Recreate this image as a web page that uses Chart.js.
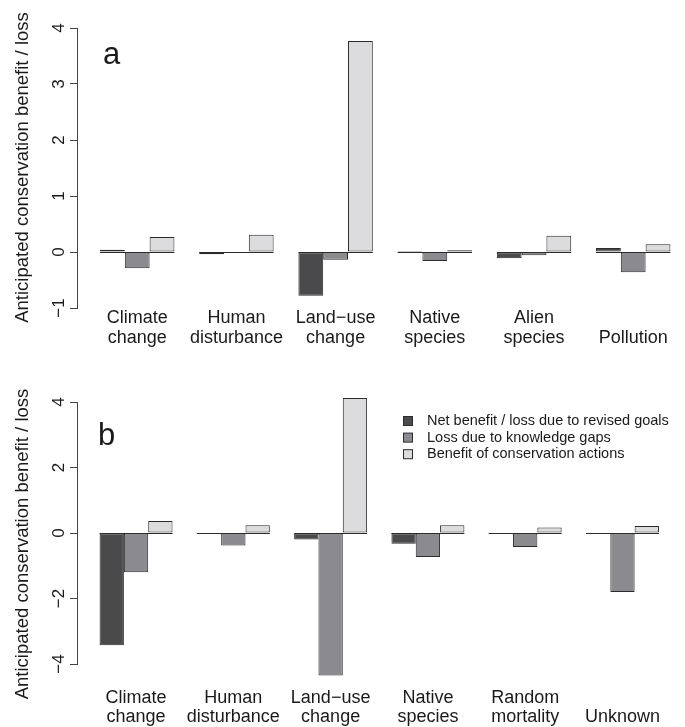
<!DOCTYPE html>
<html>
<head>
<meta charset="utf-8">
<script src="https://cdn.jsdelivr.net/npm/chart.js@4.4.1/dist/chart.umd.min.js"></script>
<style>
  html, body { margin: 0; padding: 0; background: #fff; }
  #wrap { position: relative; width: 685px; height: 727px; overflow: hidden; }
  canvas { position: absolute; left: 0; }
  #chart-a { top: 0; }
  #chart-b { top: 350px; }
</style>
</head>
<body>
<div id="wrap">
  <canvas id="chart-a" width="685" height="350"></canvas>
  <canvas id="chart-b" width="685" height="377"></canvas>
</div>
<script>
const seriesLabels = ['Net benefit / loss due to revised goals', 'Loss due to knowledge gaps', 'Benefit of conservation actions'];
const seriesColors = ['#4a4a4c', '#8b8b8f', '#dcdcde'];

// panel a
const categoriesA = [['Climate', 'change'], ['Human', 'disturbance'], ['Land\u2212use', 'change'], ['Native', 'species'], ['Alien', 'species'], ['', 'Pollution']];
const netA = [0.04, -0.04, -0.78, 0.02, -0.11, 0.07];
const gapsA = [-0.29, 0, -0.14, -0.16, -0.06, -0.36];
const benefitA = [0.27, 0.31, 3.77, 0.03, 0.29, 0.14];

// panel b
const categoriesB = [['Climate', 'change'], ['Human', 'disturbance'], ['Land\u2212use', 'change'], ['Native', 'species'], ['Random', 'mortality'], ['', 'Unknown']];
const netB = [-3.43, 0, -0.20, -0.33, 0, 0];
const gapsB = [-1.20, -0.38, -4.35, -0.73, -0.43, -1.80];
const benefitB = [0.37, 0.24, 4.12, 0.24, 0.17, 0.21];

const FONT = '"Liberation Sans", Arial, Helvetica, sans-serif';
const INK = '#1a1a1a';

// R-like extras: zero line across each group, rotated y labels, panel letter, legend
const rStyle = {
    id: 'rStyle',
    afterDatasetsDraw(chart, args, opts) {
        const ctx = chart.ctx;
        const y = chart.scales.y;
        const n = chart.data.datasets.length;
        const first = chart.getDatasetMeta(0).data;
        const last = chart.getDatasetMeta(n - 1).data;
        const y0 = Math.round(y.getPixelForValue(0)) + 0.5;

        ctx.save();
        ctx.strokeStyle = '#2b2b2b';
        ctx.lineWidth = 1;
        first.forEach((bar, i) => {
            const l = bar.x - bar.width / 2;
            const r = last[i].x + last[i].width / 2;
            ctx.beginPath();
            ctx.moveTo(l, y0);
            ctx.lineTo(r, y0);
            ctx.stroke();
        });

        ctx.fillStyle = INK;
        ctx.textAlign = 'center';
        ctx.textBaseline = 'alphabetic';
        ctx.font = '17px ' + FONT;
        y.ticks.forEach(t => {
            ctx.save();
            ctx.translate(64, y.getPixelForValue(t.value));
            ctx.rotate(-Math.PI / 2);
            ctx.fillText(t.value < 0 ? '\u2212' + Math.abs(t.value) : String(t.value), 0, 0);
            ctx.restore();
        });

        ctx.font = '18.5px ' + FONT;
        ctx.save();
        ctx.translate(28, opts.titleY);
        ctx.rotate(-Math.PI / 2);
        ctx.fillText('Anticipated conservation benefit / loss', 0, 0);
        ctx.restore();

        ctx.textAlign = 'left';
        ctx.font = '31px ' + FONT;
        ctx.fillText(opts.letter, opts.letterX, opts.letterY);

        if (opts.legend) {
            ctx.font = '14.5px ' + FONT;
            ctx.textBaseline = 'middle';
            chart.data.datasets.forEach((ds, i) => {
                const cy = 71 + i * 16.6;
                ctx.fillStyle = ds.backgroundColor;
                ctx.fillRect(403.5, cy - 4.5, 9, 9);
                ctx.strokeStyle = '#2b2b2b';
                ctx.strokeRect(403.5, cy - 4.5, 9, 9);
                ctx.fillStyle = INK;
                ctx.fillText(ds.label, 427, cy);
            });
        }
        ctx.restore();
    }
};

function makeChart(id, cats, series, yMin, yMax, step, plotTop, plotBottom, height, labelPad, lineH, extra) {
    return new Chart(document.getElementById(id), {
        type: 'bar',
        data: {
            datasets: series.map((vals, k) => ({
                label: seriesLabels[k],
                data: vals.map((v, i) => ({ x: i, y: v })),
                backgroundColor: seriesColors[k],
                borderColor: '#2b2b2b',
                borderWidth: 1,
                borderSkipped: false,
                categoryPercentage: 0.75,
                barPercentage: 1.0,
                clip: false
            }))
        },
        options: {
            responsive: false,
            animation: false,
            devicePixelRatio: 1,
            layout: { padding: { top: plotTop, left: 0, right: 0, bottom: 0 } },
            plugins: {
                legend: { display: false },
                tooltip: { enabled: false },
                rStyle: extra
            },
            scales: {
                x: {
                    type: 'linear',
                    min: -0.607,
                    max: 5.522,
                    offset: false,
                    afterBuildTicks: s => { s.ticks = cats.map((c, i) => ({ value: i })); },
                    afterFit: s => { s.height = height - plotBottom; },
                    ticks: {
                        autoSkip: false,
                        maxRotation: 0,
                        minRotation: 0,
                        padding: labelPad,
                        color: INK,
                        font: { family: FONT, size: 18, lineHeight: lineH + 'px' },
                        callback: v => cats[v]
                    },
                    grid: { display: false, drawTicks: false },
                    border: { display: false }
                },
                y: {
                    min: yMin,
                    max: yMax,
                    afterFit: s => { s.width = 77; },
                    ticks: { stepSize: step, display: false },
                    grid: { display: true, drawOnChartArea: false, drawTicks: true, tickLength: 7, color: '#444', tickColor: '#444' },
                    border: { display: true, color: '#444', width: 1 }
                }
            }
        },
        plugins: [rStyle]
    });
}

makeChart('chart-a', categoriesA, [netA, gapsA, benefitA], -1, 4, 1, 28, 308, 350, 0, 20,
    { titleY: 167.5, letter: 'a', letterX: 103, letterY: 64, legend: false });
makeChart('chart-b', categoriesB, [netB, gapsB, benefitB], -4, 4, 2, 52, 314, 377, 25, 19,
    { titleY: 194, letter: 'b', letterX: 98, letterY: 95, legend: true });
</script>
</body>
</html>
